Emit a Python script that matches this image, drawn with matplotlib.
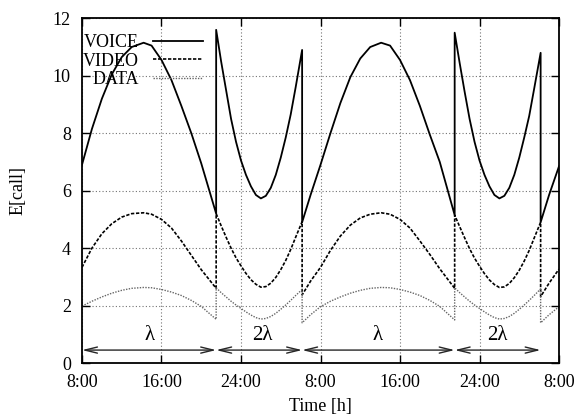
import matplotlib
matplotlib.use("Agg")
import matplotlib.pyplot as plt

plt.rcParams['font.family'] = ['Liberation Serif', 'DejaVu Serif']

# hours after 8:00 on the first day; a switch is two points at the same hour
hours = [0, 1, 2, 3, 4, 5, 6.2, 7, 8, 9, 10, 11, 12, 13.5,
         13.5, 14, 14.5, 15, 15.5, 16, 16.5, 17, 17.5, 18, 18.5, 19, 19.5, 20, 20.5, 21, 21.5, 22.15,
         22.15, 23, 24, 25, 26, 27, 28, 29, 30.1, 31, 32, 33, 34, 35, 36, 37.5,
         37.5, 38, 38.5, 39, 39.5, 40, 40.5, 41, 41.5, 42, 42.5, 43, 43.5, 44, 44.5, 45, 45.5, 46.15,
         46.15, 47, 48]

voice = [6.9, 8.15, 9.2, 10.05, 10.65, 11.0, 11.15, 11.05, 10.55, 9.85, 8.95, 8.0, 6.95, 5.2,
         11.6, 10.5, 9.5, 8.5, 7.7, 7.05, 6.55, 6.15, 5.85, 5.73, 5.82, 6.1, 6.55, 7.15, 7.85, 8.65, 9.6, 10.9,
         4.9, 5.85, 6.9, 8.0, 9.05, 9.95, 10.6, 11.0, 11.15, 11.05, 10.55, 9.85, 8.95, 7.95, 7.0, 5.15,
         11.5, 10.45, 9.45, 8.5, 7.7, 7.05, 6.55, 6.15, 5.85, 5.73, 5.82, 6.1, 6.55, 7.15, 7.85, 8.6, 9.55, 10.8,
         4.9, 5.85, 6.85]

video = [3.33, 4.0, 4.5, 4.85, 5.08, 5.2, 5.23, 5.18, 5.0, 4.7, 4.25, 3.75, 3.25, 2.6,
         5.2, 4.78, 4.38, 4.0, 3.66, 3.38, 3.12, 2.9, 2.74, 2.64, 2.66, 2.78, 2.98, 3.25, 3.57, 3.95, 4.38, 4.92,
         2.37, 2.85, 3.33, 3.92, 4.42, 4.8, 5.05, 5.18, 5.23, 5.18, 5.0, 4.7, 4.25, 3.78, 3.28, 2.6,
         5.15, 4.75, 4.36, 3.98, 3.65, 3.37, 3.11, 2.89, 2.73, 2.63, 2.65, 2.77, 2.97, 3.23, 3.55, 3.92, 4.35, 4.9,
         2.31, 2.78, 3.27]

data = [1.98, 2.15, 2.3, 2.43, 2.53, 2.6, 2.63, 2.62, 2.56, 2.47, 2.35, 2.18, 1.97, 1.52,
        2.62, 2.45, 2.3, 2.15, 2.02, 1.9, 1.78, 1.67, 1.58, 1.53, 1.55, 1.62, 1.73, 1.87, 2.02, 2.18, 2.35, 2.56,
        1.40, 1.68, 1.96, 2.15, 2.3, 2.43, 2.53, 2.6, 2.63, 2.62, 2.56, 2.47, 2.35, 2.18, 1.97, 1.5,
        2.62, 2.45, 2.3, 2.15, 2.02, 1.9, 1.78, 1.67, 1.58, 1.53, 1.55, 1.62, 1.73, 1.87, 2.02, 2.18, 2.35, 2.58,
        1.40, 1.68, 1.96]

# rate periods shown by the arrows at the bottom
period_edges = [0, 13.5, 22.15, 37.5, 46.15]
period_names = ['λ', '2λ', 'λ', '2λ']
name_pos = [6.75, 18.15, 29.7, 41.75]

xtick_pos = [0, 8, 16, 24, 32, 40, 48]
xtick_labels = ['8:00', '16:00', '24:00', '8:00', '16:00', '24:00', '8:00']

fig = plt.figure(figsize=(5.75, 4.2), dpi=100)
ax = fig.add_axes([0.1426, 0.1357, 0.8296, 0.8207])

ax.plot(hours, voice, color='k', lw=1.3, label='VOICE')
ax.plot(hours, video, color='k', lw=1.2, dashes=[2, 1], label='VIDEO')
ax.plot(hours, data, color='0.4', lw=1.0, linestyle=(0, (1, 1)), label='DATA')

# double arrows for the periods
for a, b in zip(period_edges[:-1], period_edges[1:]):
    ax.annotate('', xy=(b, 0.45), xytext=(a, 0.45),
                arrowprops=dict(arrowstyle='<->,head_length=9,head_width=2.2',
                                mutation_scale=1, shrinkA=0, shrinkB=0,
                                lw=1.0, color='0.15'))
for x, name in zip(name_pos, period_names):
    ax.text(x, 0.95, name, ha='center', va='center', fontsize=15)

ax.set_xlim(0, 48)
ax.set_ylim(0, 12)
ax.set_xticks(xtick_pos)
ax.set_xticklabels(xtick_labels)
ax.set_yticks(range(0, 13, 2))
ax.tick_params(direction='in', length=6, width=1, top=True, right=True,
               pad=8, labelsize=13)
ax.grid(True, color='0.45', linestyle=(0, (1, 2)), linewidth=0.8)
for s in ax.spines.values():
    s.set_linewidth(1.3)

ax.set_xlabel('Time [h]', fontsize=13)
ax.set_ylabel('E[call]', fontsize=13)
ax.xaxis.set_label_coords(0.5, -0.102)
ax.yaxis.set_label_coords(-0.117, 0.5)

ax.legend(loc='upper right', bbox_to_anchor=(0.254, 0.955), markerfirst=False,
          frameon=False, handlelength=2.8, handletextpad=0.75, labelspacing=0.1,
          borderpad=0, borderaxespad=0, fontsize=13)

fig.savefig('out.png', dpi=100)
